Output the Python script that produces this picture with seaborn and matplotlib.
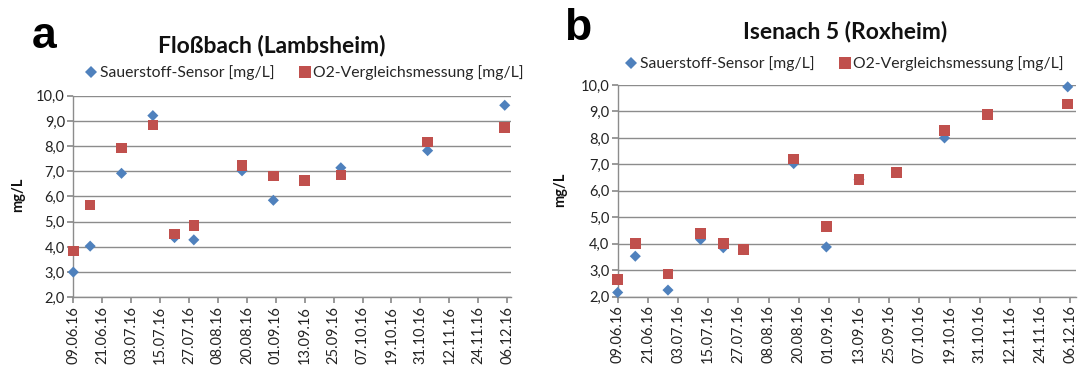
import matplotlib
matplotlib.use("Agg")
import matplotlib.pyplot as plt
import matplotlib.dates as mdates
import matplotlib.ticker as mticker
import seaborn as sns
import pandas as pd
import numpy as np

# ---------------- data ----------------
dates_a = ["2016-06-09", "2016-06-16", "2016-06-29", "2016-07-12", "2016-07-21", "2016-07-29",
           "2016-08-18", "2016-08-31", "2016-09-13", "2016-09-28", "2016-11-03", "2016-12-05"]
sensor_a = [3.00, 4.03, 6.92, 9.21, 4.37, 4.28, 7.02, 5.85, np.nan, 7.14, 7.82, 9.62]
ref_a    = [3.83, 5.66, 7.92, 8.84, 4.51, 4.86, 7.22, 6.81, 6.64, 6.85, 8.17, 8.73]

dates_b = ["2016-06-09", "2016-06-16", "2016-06-29", "2016-07-12", "2016-07-21", "2016-07-29",
           "2016-08-18", "2016-08-31", "2016-09-13", "2016-09-28", "2016-10-17", "2016-11-03", "2016-12-05"]
sensor_b = [2.16, 3.53, 2.25, 4.16, 3.85, 3.78, 7.03, 3.88, 6.42, np.nan, 8.00, np.nan, 9.93]
ref_b    = [2.65, 4.00, 2.85, 4.38, 4.00, 3.79, 7.20, 4.65, 6.42, 6.69, 8.28, 8.88, 9.28]

series_names = ["Sauerstoff-Sensor [mg/L]", "O2-Vergleichsmessung [mg/L]"]
titles = ["Floßbach (Lambsheim)", "Isenach 5 (Roxheim)"]
panel_letters = ["a", "b"]
y_ticks = [2, 3, 4, 5, 6, 7, 8, 9, 10]
x_tick_dates = pd.date_range("2016-06-09", "2016-12-06", freq="12D")

# ---------------- style ----------------
sns.set_theme(style="white")
plt.rcParams["font.family"] = ["Lato", "DejaVu Sans"]

colors = {series_names[0]: "#4F81BD", series_names[1]: "#C0504D"}
markers = {series_names[0]: "D", series_names[1]: "s"}
sizes_pt = {series_names[0]: 32, series_names[1]: 58}
grid_c = "#8C8C8C"

W, H = 1080, 374
fig = plt.figure(figsize=(W / 100, H / 100), dpi=100)

def frac_box(l, t, r, b):
    return [l / W, 1 - b / H, (r - l) / W, (b - t) / H]

boxes = [frac_box(73.3, 95.7, 511, 297.3), frac_box(617.7, 85, 1076, 296.7)]
xmax_days = [181.6, 182.3]

def make_df(dates, s, r):
    d = pd.to_datetime(dates)
    df1 = pd.DataFrame({"Datum": d, "Wert": s, "Serie": series_names[0]})
    df2 = pd.DataFrame({"Datum": d, "Wert": r, "Serie": series_names[1]})
    return pd.concat([df1, df2], ignore_index=True).dropna()

dfs = [make_df(dates_a, sensor_a, ref_a), make_df(dates_b, sensor_b, ref_b)]

title_pos = [(272, 46), (845, 32)]
letter_pos = [(44, 36), (578, 28)]
legend_y = [73, 64]
legend_cx = [304, 844]
ylabel_x = [18, 560]
ylabel_y = [195, 190]

for i, df in enumerate(dfs):
    ax = fig.add_axes(boxes[i])
    sns.scatterplot(data=df, x="Datum", y="Wert", hue="Serie", style="Serie",
                    hue_order=series_names, style_order=series_names,
                    palette=colors, markers=markers, s=45, linewidth=0,
                    ax=ax, legend=False, zorder=3)
    coll = ax.collections[0]
    coll.set_sizes([sizes_pt[n] for n in df["Serie"]])
    coll.set_clip_on(False)

    start = pd.Timestamp("2016-06-09")
    ax.set_xlim(start, start + pd.Timedelta(days=xmax_days[i]))
    ax.set_ylim(2, 10)
    ax.set_xticks(x_tick_dates)
    ax.xaxis.set_major_formatter(mdates.DateFormatter("%d.%m.%y"))
    ax.set_yticks(y_ticks)
    ax.yaxis.set_major_formatter(mticker.FuncFormatter(lambda v, p: f"{v:.1f}".replace(".", ",")))
    ax.tick_params(axis="x", rotation=90, labelsize=10.5, length=4, color=grid_c, direction="out",
                   bottom=True, pad=2, labelcolor="#222222")
    ax.tick_params(axis="y", labelsize=10.5, length=4, color=grid_c, direction="out", left=True,
                   pad=2, labelcolor="#222222")
    ax.grid(axis="y", color=grid_c, linewidth=1)
    ax.set_axisbelow(True)
    for sp in ["top", "right"]:
        ax.spines[sp].set_visible(False)
    for sp in ["left", "bottom"]:
        ax.spines[sp].set_color(grid_c)
        ax.spines[sp].set_linewidth(1)
    ax.set_xlabel("")
    ax.set_ylabel("")

    fig.text(ylabel_x[i] / W, 1 - ylabel_y[i] / H, "mg/L", rotation=90, ha="center", va="center",
             fontsize=10.5, fontweight="bold", color="#111111")
    fig.text(title_pos[i][0] / W, 1 - title_pos[i][1] / H, titles[i], ha="center", va="center",
             fontsize=16.5, fontweight="bold", color="#111111")
    fig.text(letter_pos[i][0] / W, 1 - letter_pos[i][1] / H, panel_letters[i], ha="center", va="center",
             fontsize=32, fontweight="bold", color="black", family=["Liberation Sans", "DejaVu Sans"])

    handles = [plt.Line2D([], [], marker=markers[n], linestyle="", color=colors[n],
                          markersize=(6 if markers[n] == "D" else 8), markeredgewidth=0)
               for n in series_names]
    fig.legend(handles, series_names, loc="center", ncol=2,
               bbox_to_anchor=(legend_cx[i] / W, 1 - legend_y[i] / H),
               frameon=False, fontsize=11.3, handletextpad=0.1, columnspacing=1.5,
               handlelength=0.9, borderaxespad=0, borderpad=0)

fig.savefig("out.png", dpi=100)
